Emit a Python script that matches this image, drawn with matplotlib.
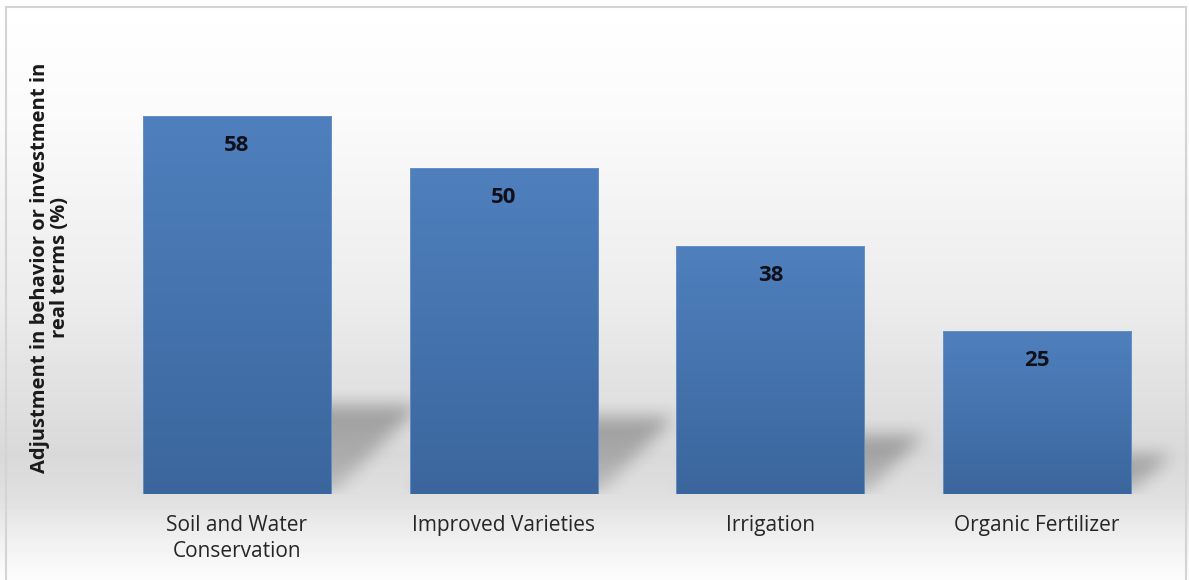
import matplotlib.pyplot as plt
import numpy as np
from matplotlib.colors import LinearSegmentedColormap
from matplotlib.patches import Rectangle

plt.rcParams['font.family'] = ['Open Sans', 'DejaVu Sans']

categories = ["Soil and Water\nConservation", "Improved Varieties", "Irrigation", "Organic Fertilizer"]
values = [58, 50, 38, 25]
ylabel = "Adjustment in behavior or investment in\nreal terms (%)"

W, H = 1189, 580
fig = plt.figure(figsize=(W / 100, H / 100), dpi=100)

# chart-area gradient (white at top, grey at floor level, light at bottom)
bg = fig.add_axes([0, 0, 1, 1], zorder=0)
rows = np.arange(H)
stops_px = [0, 120, 300, 455, 495, 545, 580]
stops_gray = [1.0, 0.98, 0.925, 0.85, 0.875, 0.95, 0.99]
g = np.interp(rows, stops_px, stops_gray)
bg_img = np.repeat(g[:, None], W, axis=1)
bg.imshow(bg_img, cmap='gray', vmin=0, vmax=1, aspect='auto',
          extent=[0, 1, 0, 1], interpolation='nearest')
bg.set_xlim(0, 1)
bg.set_ylim(0, 1)
bg.axis('off')
bg.add_patch(Rectangle((6 / W, -0.01), 1180 / W, 1 - 7 / H + 0.01,
                       fill=False, edgecolor='#d4d4d4', lw=1.5))

ax_left, ax_right, ax_bottom, ax_top = 103.5, 1170.5, 494, 38
ax = fig.add_axes([ax_left / W, 1 - ax_bottom / H, (ax_right - ax_left) / W,
                   (ax_bottom - ax_top) / H], zorder=1)
ax.patch.set_alpha(0)
x = np.arange(len(values))
width = 0.705

# perspective shadows behind the bars
pad = 30
nx, ny = int(ax_right - ax_left) + 2 * pad, int(ax_bottom - ax_top)
xpx = len(values) / (ax_right - ax_left)
X = np.linspace(-0.5 - pad * xpx, len(values) - 0.5 + pad * xpx, nx)[None, :]
Y = np.linspace(0, 70, ny)[:, None]
c = (ny / 70) * xpx
k = 0.235
alpha = np.zeros((ny, nx))
for xi, v in zip(x, values):
    top = k * v
    m = (Y <= top) & (X >= xi - width / 2 + Y * c) & (X <= xi + width / 2 + Y * c)
    alpha = np.maximum(alpha, m * (0.15 + 0.14 * Y / top))


def box_blur(a, r):
    ker = np.ones(2 * r + 1) / (2 * r + 1)
    a = np.apply_along_axis(lambda s: np.convolve(s, ker, mode='same'), 0, a)
    a = np.apply_along_axis(lambda s: np.convolve(s, ker, mode='same'), 1, a)
    return a


alpha = box_blur(box_blur(alpha, 10), 8)
shadow = np.zeros((ny, nx, 4))
shadow[..., 3] = alpha
ax.imshow(shadow, extent=[X.min(), X.max(), 0, 70], origin='lower',
          aspect='auto', zorder=1, clip_on=False)

# bars with vertical gradient
bars = ax.bar(x, values, width=width, color='none', edgecolor='#6a95cc',
              linewidth=0.6, zorder=3)
cmap = LinearSegmentedColormap.from_list('bar', ['#3b669d', '#4f80bd'])
grad = np.linspace(0, 1, 256)[:, None]
for b in bars:
    im = ax.imshow(grad, cmap=cmap, origin='lower', aspect='auto',
                   extent=[b.get_x(), b.get_x() + b.get_width(), 0, b.get_height()],
                   zorder=2)
    im.set_clip_path(b)
ax.set_xlim(-0.5, len(values) - 0.5)
ax.set_ylim(0, 70)

for xi, v in zip(x, values):
    ax.annotate(str(v), (xi, v), xytext=(0, -29), textcoords='offset pixels',
                ha='center', va='center', fontsize=16, fontweight='bold',
                color='#10101a', zorder=4)

ax.set_xticks(x, categories, fontsize=15, color='#262626', linespacing=1.3)
ax.tick_params(axis='x', length=0, pad=15)
ax.set_yticks([])
for s in ax.spines.values():
    s.set_visible(False)

fig.text(50 / W, 1 - 268 / H, ylabel, rotation=90, ha='center', va='center',
         multialignment='center', fontsize=14.5, fontweight='bold',
         color='#1a1a1a', linespacing=1.05)

fig.savefig('out.png', dpi=100)
